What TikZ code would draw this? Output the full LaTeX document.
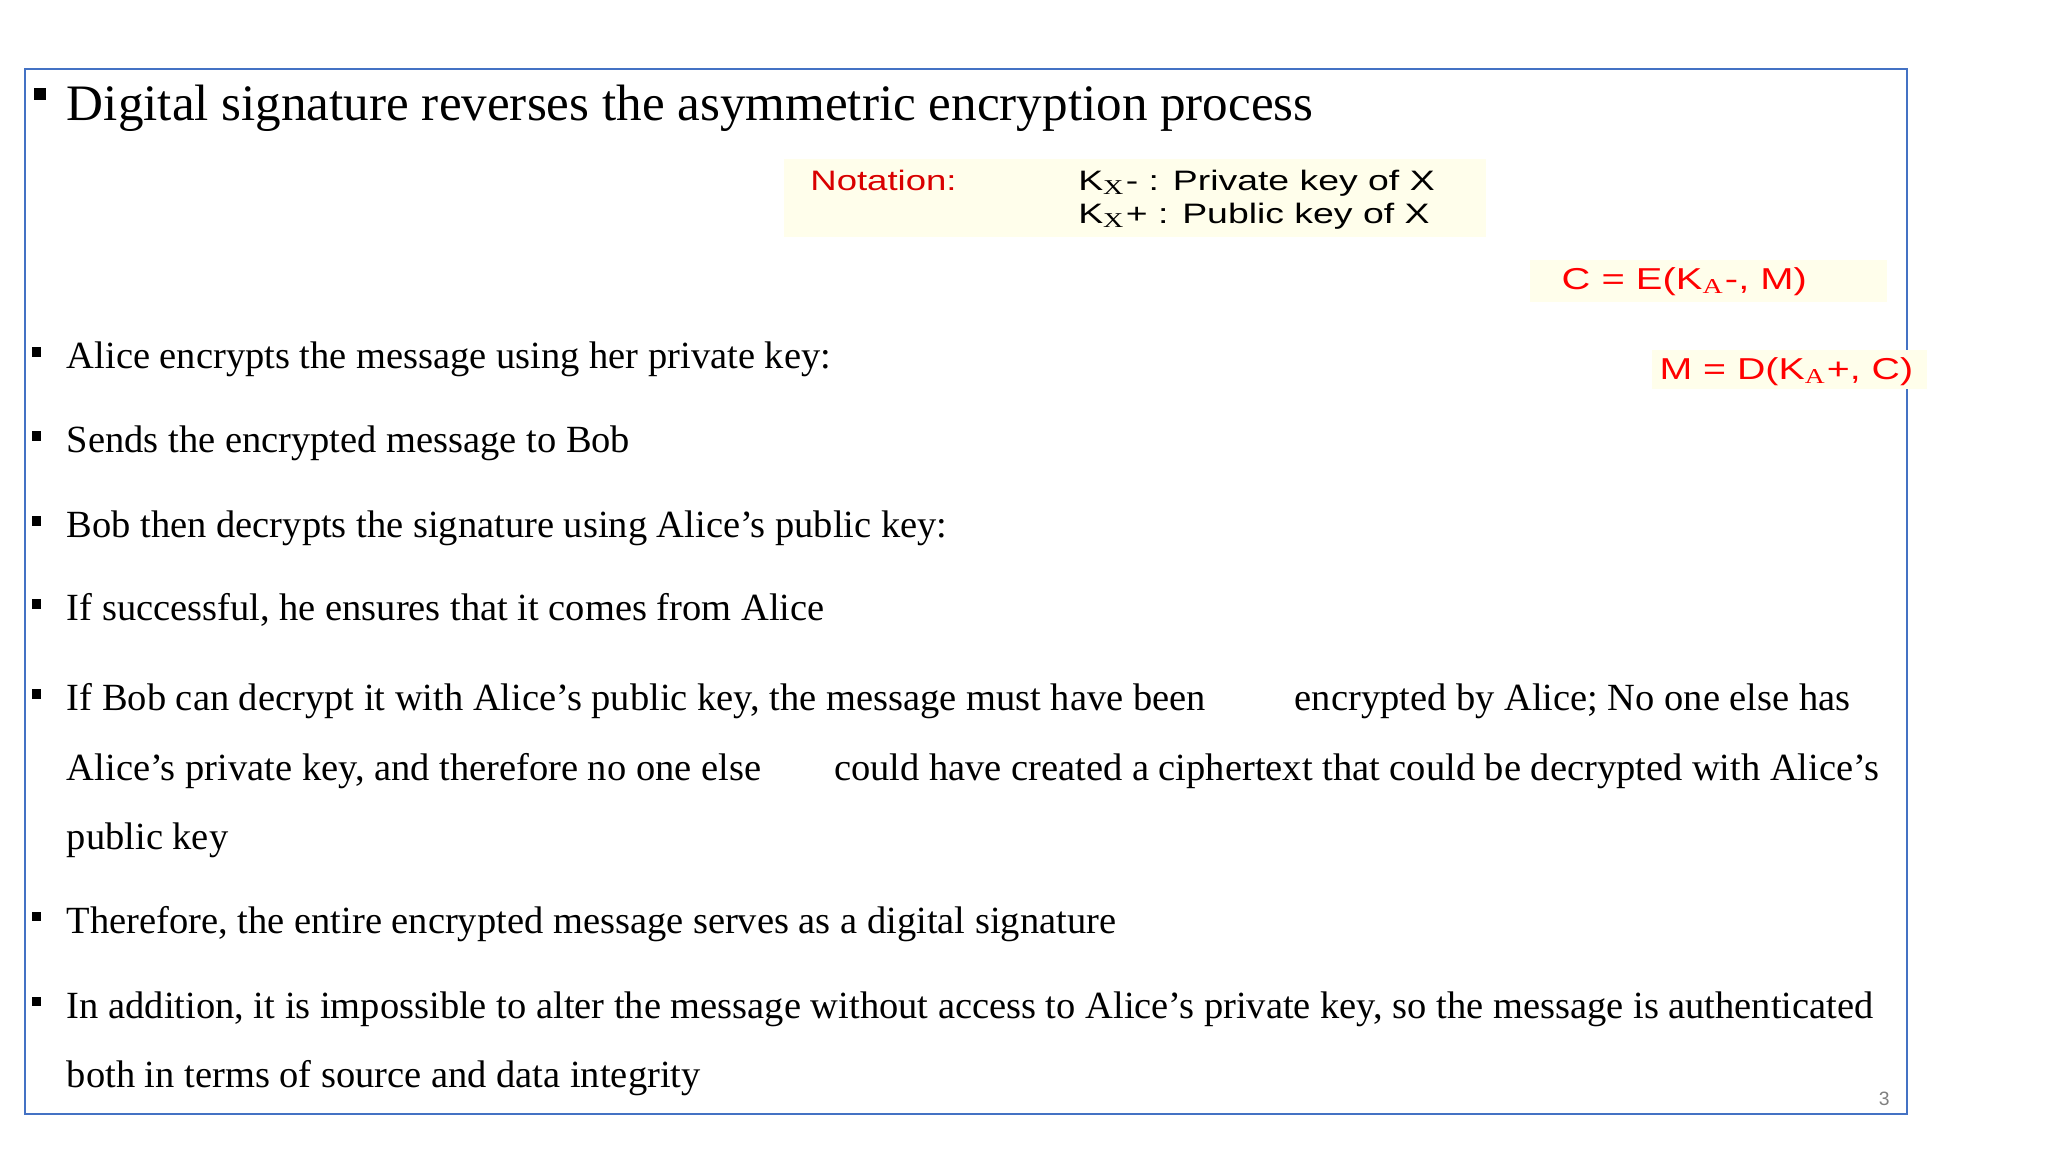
\documentclass[tikz,border=0pt]{standalone}
\usepackage{fontspec}
\setmainfont{Liberation Serif}
\newfontfamily\arialf{Liberation Sans}
\definecolor{frameblue}{HTML}{4472C4}
\begin{document}
\begin{tikzpicture}[x=0.009886cm,y=-0.009886cm,
  body/.style={anchor=base west,inner sep=0pt,font=\fontsize{10.95}{13}\selectfont},
  sq/.style={fill=black,minimum size=9.5*0.01cm,inner sep=0pt},
  nt/.style={anchor=base west,inner sep=0pt,font=\arialf\fontsize{8}{9}\selectfont},
  eq/.style={anchor=base west,inner sep=0pt,text=red,font=\arialf\fontsize{8.6}{10}\selectfont},
  ybox/.style={fill=yellow!8,draw=none}]
\useasboundingbox (0,0) rectangle (2071.6,1165.3);
\draw[draw=frameblue,line width=0.6pt] (25,70) rectangle (1929,1127);
% title
\node[sq,minimum size=12*0.01cm] (b0) at (40,95) {};
\node[anchor=base west,inner sep=0pt,font=\fontsize{14.55}{17}\selectfont] (title) at (67,122) {Digital signature reverses the asymmetric encryption process};
% notation
\fill[ybox] (793,161) rectangle (1503,240);
\node[nt,text=red!85!black] (nl) at (819,193) {\scalebox{1.3}[1]{Notation:}};
\node[nt] (n1) at (1090,193) {\scalebox{1.33}[1]{K$_{\mathrm{X}}$- : Private key of X}};
\node[nt] (n2) at (1090,226) {\scalebox{1.33}[1]{K$_{\mathrm{X}}$+ : Public key of X}};
\fill[ybox] (1548,263) rectangle (1909,305);
\node[eq] (c) at (1579,293) {\scalebox{1.32}[1]{C = E(K$_{\mathrm{A}}$-, M)}};
\fill[ybox] (1671,354) rectangle (1949,394);
\node[eq] (m) at (1678,384) {\scalebox{1.3}[1]{M = D(K$_{\mathrm{A}}$+, C)}};
% bullets
\foreach \y/\t [count=\i] in {373/{Alice encrypts the message using her private key:},
  458/{Sends the encrypted message to Bob},
  544/{Bob then decrypts the signature using Alice’s public key:},
  628/{If successful, he ensures that it comes from Alice},
  719/{If Bob can decrypt it with Alice’s public key, the message must have been},
  944/{Therefore, the entire encrypted message serves as a digital signature},
  1030/{In addition, it is impossible to alter the message without access to Alice’s private key, so the message is authenticated}}
{
  \node[sq] (s\i) at (37,\y-17) {};
  \node[body] (t\i) at (67,\y) {\t};
}
\node[body] (t5b) at (1309,719) {encrypted by Alice; No one else has};
\node[body] (t5c) at (67,789) {Alice’s private key, and therefore no one else};
\node[body] (t5d) at (843,789) {could have created a ciphertext that could be decrypted with Alice’s};
\node[body] (t5e) at (67,859) {public key};
\node[body] (t7b) at (67,1100) {both in terms of source and data integrity};
\node[anchor=base,inner sep=0pt,text=gray,font=\arialf\fontsize{5.5}{6}\selectfont] (pg) at (1906,1118) {3};
\end{tikzpicture}
\end{document}
